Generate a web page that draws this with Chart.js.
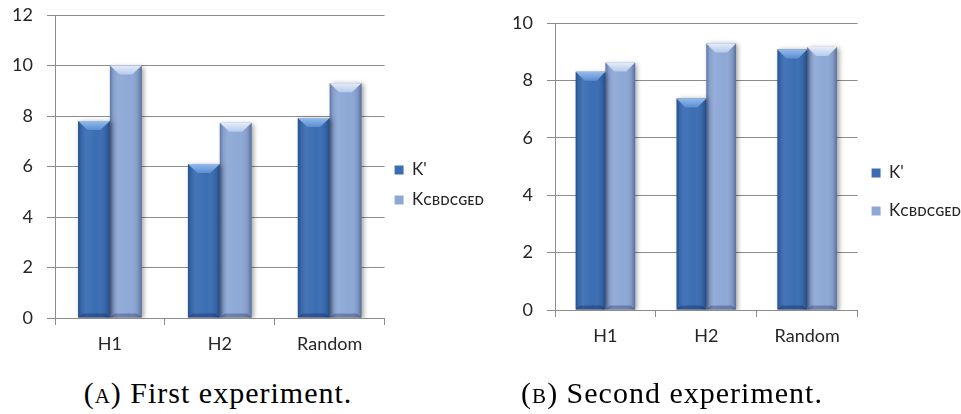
<!DOCTYPE html>
<html>
<head>
<meta charset="utf-8">
<script src="https://cdn.jsdelivr.net/npm/chart.js@4/dist/chart.umd.min.js"></script>
<style>
  html, body { margin: 0; padding: 0; background: #fff; width: 961px; height: 414px; overflow: hidden; position: relative; }
  canvas { position: absolute; top: 0; }
  .cap { position: absolute; top: 377px; font-family: "Liberation Serif", "DejaVu Serif", serif; font-size: 30px; line-height: 32px;
         letter-spacing: 1px; color: #000; white-space: nowrap; transform: translateX(-50%); }
  .sc { font-variant: small-caps; }
</style>
</head>
<body>
<canvas id="chartA" width="494" height="360" style="left:0px"></canvas>
<canvas id="chartB" width="471" height="379" style="left:500px"></canvas>
<div class="cap" style="left:218px">(<span class="sc">a</span>) First experiment.</div>
<div class="cap" style="left:672px">(<span class="sc">b</span>) Second experiment.</div>
<script>
// Categories and series shared by both panels
const categories = ['H1', 'H2', 'Random'];
const seriesLabels = ["K'", 'K\u1D04\u0299\u1D05\u1D04\u0262\u1D07\u1D05'];

// First experiment
const firstKPrime = [7.8, 6.1, 7.92];
const firstKCbdcged = [10.0, 7.73, 9.3];
const firstMax = 12;

// Second experiment
const secondKPrime = [8.3, 7.37, 9.08];
const secondKCbdcged = [8.62, 9.29, 9.16];
const secondMax = 10;

const tickStep = 2;

Chart.defaults.font.family = 'Lato, "Open Sans", sans-serif';
Chart.defaults.color = '#262626';

const GRID = '#8c8c8c';
const DARK = '#3a6db3';
const LIGHT = '#8ea8d6';
const TEXT = '#262626';

// Glossy bevel shading painted over each bar element after the library lays it out
const bevelPlugin = {
  id: 'bevel',
  beforeDatasetsDraw(chart) {
    const c = chart.ctx;
    c.save();
    c.shadowColor = 'rgba(0,0,0,0.4)';
    c.shadowBlur = 5;
    c.shadowOffsetX = 2;
    c.shadowOffsetY = 1;
  },
  afterDatasetsDraw(chart) {
    const c = chart.ctx;
    c.restore();
    chart.data.datasets.forEach((ds, di) => {
      const meta = chart.getDatasetMeta(di);
      meta.data.forEach(bar => {
        const { x, y, base, width } = bar.getProps(['x', 'y', 'base', 'width'], true);
        const l = x - width / 2, r = x + width / 2, h = base - y;
        c.save();
        const g = c.createLinearGradient(l, 0, r, 0);
        g.addColorStop(0, 'rgba(10,25,60,0.35)');
        g.addColorStop(0.1, 'rgba(10,25,60,0.08)');
        g.addColorStop(0.25, 'rgba(255,255,255,0.06)');
        g.addColorStop(0.6, 'rgba(255,255,255,0)');
        g.addColorStop(0.88, 'rgba(10,25,60,0.12)');
        g.addColorStop(1, 'rgba(10,25,60,0.4)');
        c.fillStyle = g;
        c.fillRect(l, y, width, h);

        // lighter bevelled cap, narrowing downward
        const b = Math.min(9, h / 3), inset = width * 0.3;
        c.beginPath();
        c.moveTo(l, y); c.lineTo(r, y);
        c.lineTo(r - inset, y + b); c.lineTo(l + inset, y + b);
        c.closePath();
        const tg = c.createLinearGradient(0, y, 0, y + b);
        tg.addColorStop(0, ds.bevelTop);
        tg.addColorStop(1, ds.bevelMid);
        c.fillStyle = tg;
        c.fill();

        // darker foot
        c.beginPath();
        c.moveTo(l, base); c.lineTo(r, base);
        c.lineTo(r - inset * 0.5, base - 4); c.lineTo(l + inset * 0.5, base - 4);
        c.closePath();
        c.fillStyle = 'rgba(0,0,40,0.25)';
        c.fill();
        c.restore();
      });
    });
  }
};

function wrapLabels(chart) {
  const items = Chart.defaults.plugins.legend.labels.generateLabels(chart);
  items.forEach(it => { it.text = [it.text]; it.lineWidth = 0; it.fontColor = TEXT; });
  return items;
}

function buildChart(id, kPrime, kCbd, yMax, opt) {
  return new Chart(document.getElementById(id), {
    type: 'bar',
    data: {
      labels: categories,
      datasets: [
        { label: seriesLabels[0], data: kPrime, backgroundColor: DARK, borderWidth: 0,
          bevelTop: '#94bbec', bevelMid: '#5a8ed0' },
        { label: seriesLabels[1], data: kCbd, backgroundColor: LIGHT, borderWidth: 0,
          bevelTop: '#e4edfa', bevelMid: '#b6caec' }
      ]
    },
    options: {
      responsive: false,
      animation: false,
      layout: { padding: { top: opt.padTop, right: 0, bottom: opt.padBottom, left: 0 } },
      datasets: { bar: { barPercentage: 1, categoryPercentage: opt.catPct } },
      plugins: {
        tooltip: { enabled: false },
        legend: {
          position: 'right',
          labels: {
            boxWidth: 9, boxHeight: 9, padding: opt.legendPad, color: TEXT,
            font: { size: 17, lineHeight: opt.legendLine },
            generateLabels: wrapLabels
          }
        }
      },
      scales: {
        x: {
          grid: { display: true, drawOnChartArea: false, drawTicks: true, tickLength: 7, color: GRID, offset: true },
          border: { display: true, color: GRID, width: 1 },
          ticks: { color: TEXT, font: { size: 18 }, padding: 8, maxRotation: 0 },
          afterFit(s) { s.height = opt.xHeight; }
        },
        y: {
          min: 0, max: yMax,
          grid: { color: GRID, lineWidth: 1, tickLength: 8, drawTicks: true },
          border: { display: true, color: GRID, width: 1 },
          ticks: { stepSize: tickStep, color: TEXT, font: { size: 18 }, padding: 14 },
          afterFit(s) { s.width = 55; s.paddingTop = 0; s.paddingBottom = 0; }
        }
      }
    },
    plugins: [bevelPlugin]
  });
}

buildChart('chartA', firstKPrime, firstKCbdcged, firstMax,
  { padTop: 15, padBottom: 2, catPct: 0.58, legendPad: 10, legendLine: '20px', xHeight: 40 });
buildChart('chartB', secondKPrime, secondKCbdcged, secondMax,
  { padTop: 23, padBottom: 11, catPct: 0.59, legendPad: 14, legendLine: '24px', xHeight: 58 });
</script>
</body>
</html>
